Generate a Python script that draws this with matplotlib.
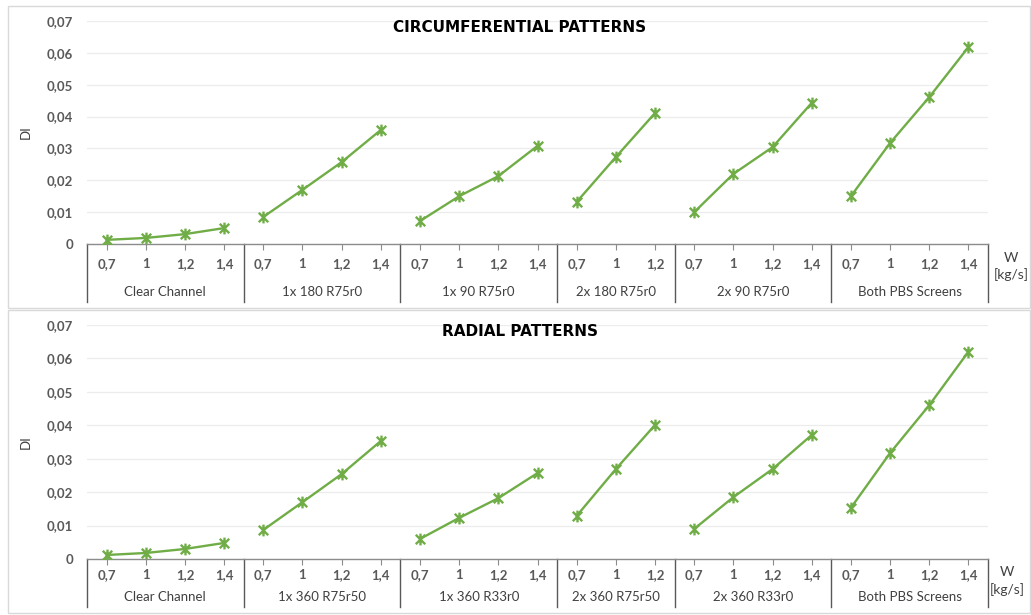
import matplotlib
matplotlib.use("Agg")
import matplotlib.pyplot as plt
import matplotlib.transforms as mtransforms
from matplotlib.patches import Rectangle
from matplotlib.path import Path

plt.rcParams['font.family'] = ['Lato', 'DejaVu Sans']

# mass flow rates per configuration
flows4 = ["0,7", "1", "1,2", "1,4"]
flows3 = ["0,7", "1", "1,2"]

# circumferential patterns
circ_groups = ["Clear Channel", "1x 180 R75r0", "1x 90 R75r0", "2x 180 R75r0", "2x 90 R75r0", "Both PBS Screens"]
circ_flows = [flows4, flows4, flows4, flows3, flows4, flows4]
circ_di = [
    [0.0013, 0.0019, 0.0031, 0.0050],
    [0.0085, 0.0170, 0.0257, 0.0358],
    [0.0072, 0.0150, 0.0213, 0.0308],
    [0.0132, 0.0273, 0.0411],
    [0.0100, 0.0220, 0.0304, 0.0443],
    [0.0150, 0.0317, 0.0461, 0.0618],
]

# radial patterns
rad_groups = ["Clear Channel", "1x 360 R75r50", "1x 360 R33r0", "2x 360 R75r50", "2x 360 R33r0", "Both PBS Screens"]
rad_flows = [flows4, flows4, flows4, flows3, flows4, flows4]
rad_di = [
    [0.0012, 0.0018, 0.0030, 0.0048],
    [0.0087, 0.0170, 0.0254, 0.0353],
    [0.0060, 0.0123, 0.0182, 0.0257],
    [0.0129, 0.0269, 0.0401],
    [0.0090, 0.0185, 0.0269, 0.0371],
    [0.0153, 0.0317, 0.0460, 0.0620],
]

GREEN = "#70ad47"
LABEL = "#595959"
DIV = "#595959"

# excel-style star marker: an x with a vertical bar
star = Path([(-1, -1), (1, 1), (-1, 1), (1, -1), (0, -1.25), (0, 1.25)],
            [Path.MOVETO, Path.LINETO, Path.MOVETO, Path.LINETO, Path.MOVETO, Path.LINETO])

W, H = 1031, 615
fig = plt.figure(figsize=(W / 100, H / 100), dpi=100)


def panel(rect, groups, flows, values, title, box, title_y, offs):
    # offs: pixel offsets below the axis for tick labels, group labels,
    # divider ends, and the two lines of the unit label
    tick_off, group_off, div_off, unit_off = offs
    ax = fig.add_axes(rect)
    hpx = rect[3] * H
    xpos = 0
    ticks, ticklabels, bounds, centers = [], [], [-0.5], []
    for name, fl, vals in zip(groups, flows, values):
        xs = list(range(xpos, xpos + len(fl)))
        ax.plot(xs, vals, color=GREEN, lw=1.7, marker=star, ms=8.5,
                mec=GREEN, mew=1.7, mfc="none", zorder=3)
        ticks += xs
        ticklabels += fl
        centers.append((xs[0] + xs[-1]) / 2)
        xpos += len(fl)
        bounds.append(xpos - 0.5)

    ax.set_xlim(-0.5, xpos - 0.5)
    ax.set_ylim(0, 0.07)
    ax.set_yticks([i / 100 for i in range(8)])
    ax.set_yticklabels(["0"] + ["0,0%d" % i for i in range(1, 8)])
    ax.grid(axis="y", color="#ececec", lw=0.9)
    ax.set_axisbelow(True)
    for s in ["left", "top", "right"]:
        ax.spines[s].set_visible(False)
    ax.spines["bottom"].set_color("#8c8c8c")
    ax.spines["bottom"].set_linewidth(1.0)
    ax.tick_params(axis="y", length=0, labelsize=9.5, labelcolor=LABEL, pad=10)
    for t in ax.get_yticklabels():
        t.set_fontweight("bold")
    ax.set_xticks(ticks)
    ax.set_xticklabels([])
    ax.tick_params(axis="x", length=4, color="#8c8c8c")

    trans = mtransforms.blended_transform_factory(ax.transData, ax.transAxes)
    for x, lab in zip(ticks, ticklabels):
        ax.text(x, -tick_off / hpx, lab, transform=trans, ha="center",
                va="center", fontsize=9.5, color=LABEL, fontweight="bold")
    for b in bounds:
        ax.plot([b, b], [0, -div_off / hpx], color=DIV, lw=1.0,
                transform=trans, clip_on=False)
    for c, name in zip(centers, groups):
        ax.text(c, -group_off / hpx, name, transform=trans, ha="center",
                va="center", fontsize=9.5, color="#404040")

    ax.set_ylabel("DI", fontsize=9.5, color="#404040")
    ax.yaxis.set_label_coords(-55 / (rect[2] * W), 0.5)
    ux = unit_off[0]
    ax.text(1 + (ux - 988) / (rect[2] * W), -unit_off[1] / hpx, "W",
            transform=ax.transAxes, ha="center", va="center", fontsize=10,
            color="#404040")
    ax.text(1 + (ux - 988) / (rect[2] * W), -unit_off[2] / hpx, "[kg/s]",
            transform=ax.transAxes, ha="center", va="center", fontsize=10,
            color="#404040")

    fig.text(520 / W, 1 - title_y / H, title, ha="center", va="center",
             fontsize=11, fontweight="bold", color="black",
             family=["DejaVu Sans"])

    x0, y0, x1, y1 = box
    fig.add_artist(Rectangle((x0 / W, 1 - y1 / H), (x1 - x0) / W, (y1 - y0) / H,
                             transform=fig.transFigure, fill=False,
                             ec="#d9d9d9", lw=1.0))
    return ax


panel([87 / W, 1 - 244 / H, 901 / W, 223 / H], circ_groups, circ_flows, circ_di,
      "CIRCUMFERENTIAL PATTERNS", (8, 6, 1030, 308), 27,
      (20, 48, 58, (1011, 14, 31)))
panel([87 / W, 1 - 559 / H, 901 / W, 234 / H], rad_groups, rad_flows, rad_di,
      "RADIAL PATTERNS", (8, 310, 1030, 613), 331,
      (16, 38, 48, (1007, 13, 31)))

fig.savefig("out.png", dpi=100, facecolor="white")
